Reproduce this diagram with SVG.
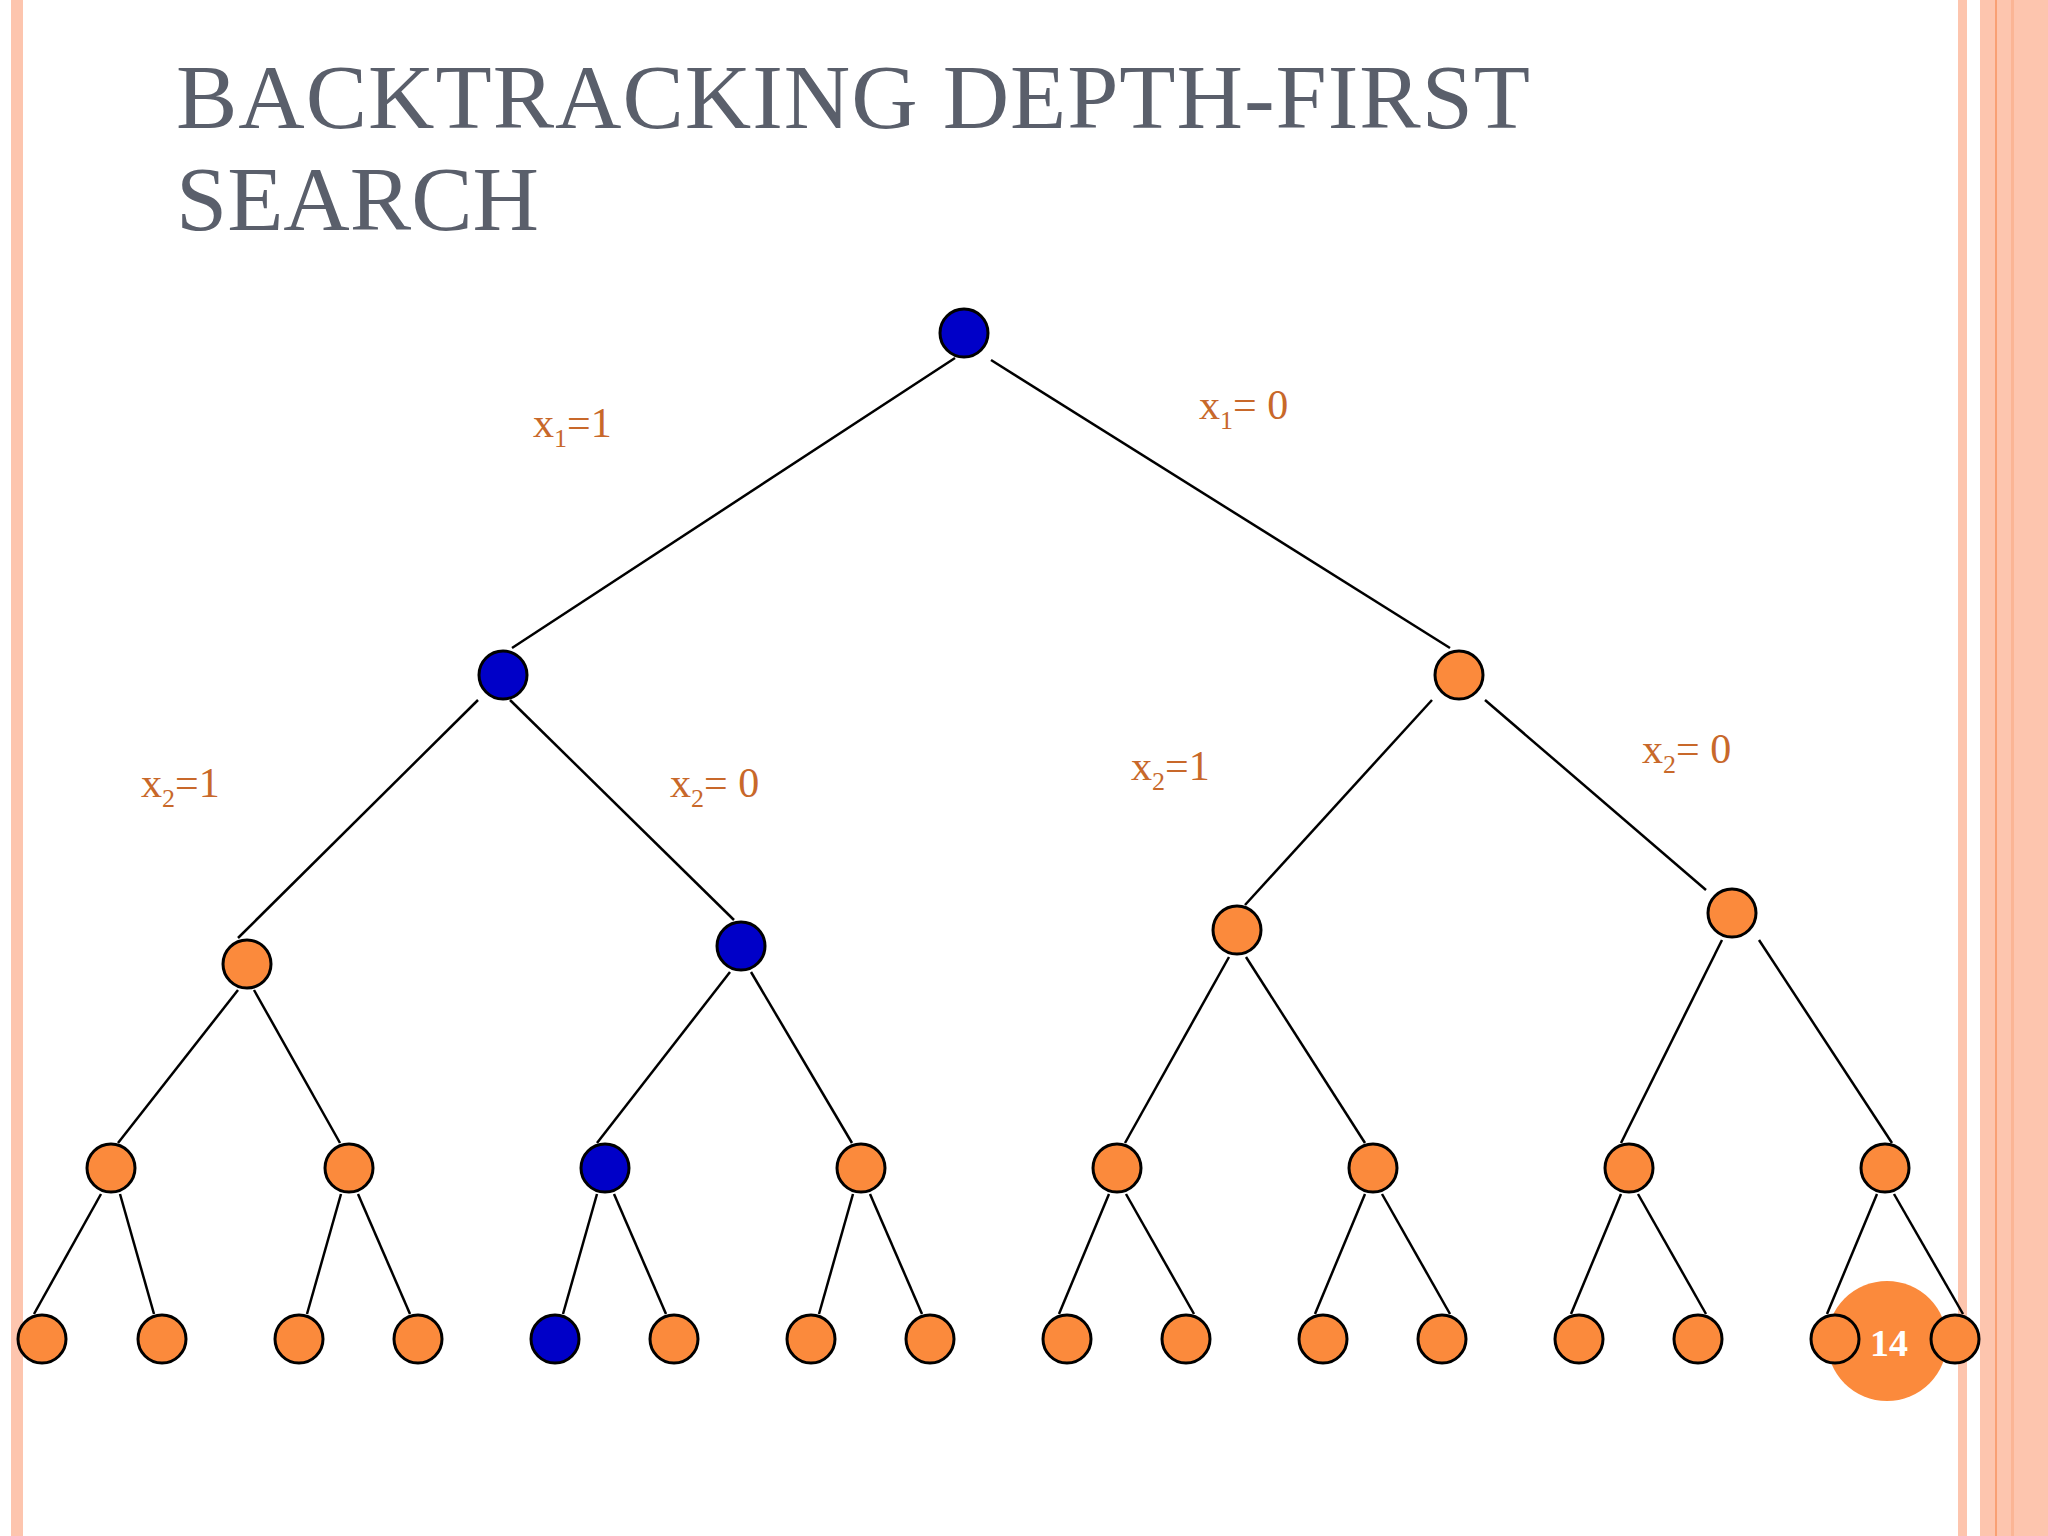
<svg xmlns="http://www.w3.org/2000/svg" width="2048" height="1536" viewBox="0 0 2048 1536">
<style>
.t{font-family:"Liberation Serif",serif;font-size:92px;fill:#5a5f6b}
.l{font-family:"Liberation Serif",serif;font-size:42px;fill:#c8682a}
.s{font-size:26px}
.o{fill:#fb8a3c;stroke:#000;stroke-width:3}
.b{fill:#0000c8;stroke:#000;stroke-width:3}
.e line{stroke:#000;stroke-width:2.5}
</style>
<rect width="2048" height="1536" fill="#fff"/>
<rect x="11" y="0" width="12" height="1536" fill="#fdc5ae"/>
<rect x="1958" y="0" width="9" height="1536" fill="#fdc5ae"/>
<rect x="1980" y="0" width="68" height="1536" fill="#fdc5ae"/>
<rect x="1995" y="0" width="2" height="1536" fill="#f9a074"/>
<rect x="2011" y="0" width="3" height="1536" fill="#fbb595"/>
<text class="t" x="176" y="128" textLength="1354">BACKTRACKING DEPTH-FIRST</text>
<text class="t" x="176" y="230">SEARCH</text>
<g class="e" id="edges">
<line x1="955" y1="358" x2="512" y2="648"/>
<line x1="991" y1="360" x2="1450" y2="648"/>
<line x1="478" y1="700" x2="238" y2="938"/>
<line x1="510" y1="700" x2="734" y2="920"/>
<line x1="1432" y1="700" x2="1245" y2="905"/>
<line x1="1485" y1="700" x2="1706" y2="890"/>
<line x1="238" y1="990" x2="118" y2="1143"/>
<line x1="254" y1="990" x2="340" y2="1143"/>
<line x1="730" y1="972" x2="597" y2="1143"/>
<line x1="751" y1="972" x2="852" y2="1143"/>
<line x1="1229" y1="957" x2="1125" y2="1143"/>
<line x1="1246" y1="957" x2="1365" y2="1143"/>
<line x1="1722" y1="940" x2="1621" y2="1143"/>
<line x1="1759" y1="940" x2="1892" y2="1143"/>
<line x1="101" y1="1194" x2="34" y2="1314"/>
<line x1="120" y1="1194" x2="154" y2="1314"/>
<line x1="341" y1="1194" x2="307" y2="1314"/>
<line x1="358" y1="1194" x2="410" y2="1314"/>
<line x1="597" y1="1194" x2="563" y2="1314"/>
<line x1="614" y1="1194" x2="666" y2="1314"/>
<line x1="853" y1="1194" x2="819" y2="1314"/>
<line x1="870" y1="1194" x2="922" y2="1314"/>
<line x1="1109" y1="1194" x2="1059" y2="1314"/>
<line x1="1126" y1="1194" x2="1194" y2="1314"/>
<line x1="1365" y1="1194" x2="1315" y2="1314"/>
<line x1="1382" y1="1194" x2="1450" y2="1314"/>
<line x1="1621" y1="1194" x2="1571" y2="1314"/>
<line x1="1638" y1="1194" x2="1706" y2="1314"/>
<line x1="1877" y1="1194" x2="1827" y2="1314"/>
<line x1="1894" y1="1194" x2="1963" y2="1314"/>
</g>
<circle cx="1887" cy="1341" r="60" fill="#fb8a3c"/>
<text x="1889" y="1356" text-anchor="middle" font-family="Liberation Serif,serif" font-size="38" font-weight="bold" fill="#fff">14</text>
<g id="n0"><circle class="b" cx="964" cy="333" r="24"/></g>
<g id="n1"><circle class="b" cx="503" cy="675" r="24"/></g>
<g id="n2"><circle class="o" cx="1459" cy="675" r="24"/></g>
<g id="n3"><circle class="o" cx="247" cy="964" r="24"/></g>
<g id="n4"><circle class="b" cx="741" cy="946" r="24"/></g>
<g id="n5"><circle class="o" cx="1237" cy="930" r="24"/></g>
<g id="n6"><circle class="o" cx="1732" cy="913" r="24"/></g>
<g id="n7"><circle class="o" cx="111" cy="1168" r="24"/></g>
<g id="n8"><circle class="o" cx="349" cy="1168" r="24"/></g>
<g id="n9"><circle class="b" cx="605" cy="1168" r="24"/></g>
<g id="n10"><circle class="o" cx="861" cy="1168" r="24"/></g>
<g id="n11"><circle class="o" cx="1117" cy="1168" r="24"/></g>
<g id="n12"><circle class="o" cx="1373" cy="1168" r="24"/></g>
<g id="n13"><circle class="o" cx="1629" cy="1168" r="24"/></g>
<g id="n14"><circle class="o" cx="1885" cy="1168" r="24"/></g>
<g id="n15"><circle class="o" cx="42" cy="1339" r="24"/></g>
<g id="n16"><circle class="o" cx="162" cy="1339" r="24"/></g>
<g id="n17"><circle class="o" cx="299" cy="1339" r="24"/></g>
<g id="n18"><circle class="o" cx="418" cy="1339" r="24"/></g>
<g id="n19"><circle class="b" cx="555" cy="1339" r="24"/></g>
<g id="n20"><circle class="o" cx="674" cy="1339" r="24"/></g>
<g id="n21"><circle class="o" cx="811" cy="1339" r="24"/></g>
<g id="n22"><circle class="o" cx="930" cy="1339" r="24"/></g>
<g id="n23"><circle class="o" cx="1067" cy="1339" r="24"/></g>
<g id="n24"><circle class="o" cx="1186" cy="1339" r="24"/></g>
<g id="n25"><circle class="o" cx="1323" cy="1339" r="24"/></g>
<g id="n26"><circle class="o" cx="1442" cy="1339" r="24"/></g>
<g id="n27"><circle class="o" cx="1579" cy="1339" r="24"/></g>
<g id="n28"><circle class="o" cx="1698" cy="1339" r="24"/></g>
<g id="n29"><circle class="o" cx="1835" cy="1339" r="24"/></g>
<g id="n30"><circle class="o" cx="1955" cy="1339" r="24"/></g>
<g id="labels">
<text class="l" x="533" y="437">x<tspan class="s" dy="10">1</tspan><tspan dy="-10">=1</tspan></text>
<text class="l" x="1199" y="419">x<tspan class="s" dy="10">1</tspan><tspan dy="-10">= 0</tspan></text>
<text class="l" x="141" y="797">x<tspan class="s" dy="10">2</tspan><tspan dy="-10">=1</tspan></text>
<text class="l" x="670" y="797">x<tspan class="s" dy="10">2</tspan><tspan dy="-10">= 0</tspan></text>
<text class="l" x="1131" y="780">x<tspan class="s" dy="10">2</tspan><tspan dy="-10">=1</tspan></text>
<text class="l" x="1642" y="763">x<tspan class="s" dy="10">2</tspan><tspan dy="-10">= 0</tspan></text>
</g>
</svg>
